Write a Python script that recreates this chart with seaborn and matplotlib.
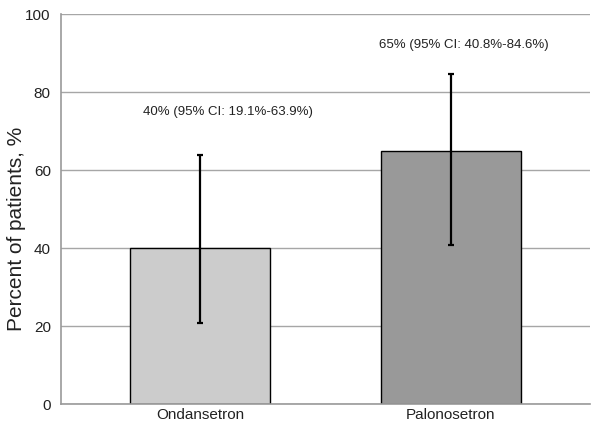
import seaborn as sns
import matplotlib.pyplot as plt
import pandas as pd

# Data
drugs = ["Ondansetron", "Palonosetron"]
percent = [40, 65]
ci_low = [20.9, 40.8]
ci_high = [63.9, 84.6]
labels = ["40% (95% CI: 19.1%-63.9%)", "65% (95% CI: 40.8%-84.6%)"]
label_x = [0.11, 1.05]
label_y = [75, 92]
colors = ["#cccccc", "#999999"]

df = pd.DataFrame({"drug": drugs, "percent": percent})

sns.set_style("white")
plt.rcParams["font.family"] = ["Liberation Sans", "DejaVu Sans"]

fig = plt.figure(figsize=(6, 4.29), dpi=100)
ax = fig.add_axes([0.102, 0.058, 0.881, 0.909])

sns.barplot(data=df, x="drug", y="percent", hue="drug", palette=colors,
            width=0.56, edgecolor="black", linewidth=1, legend=False,
            ax=ax, zorder=2)

# 95% CI error bars
lo = [p - l for p, l in zip(percent, ci_low)]
hi = [h - p for p, h in zip(percent, ci_high)]
ax.errorbar(range(len(drugs)), percent, yerr=[lo, hi], fmt="none",
            ecolor="black", elinewidth=1.6, capsize=2, capthick=1.6, zorder=3)

for x, y, t in zip(label_x, label_y, labels):
    ax.text(x, y, t, ha="center", va="center", fontsize=9.5, color="#222222")

ax.set_ylim(0, 100)
ax.set_yticks(range(0, 101, 20))
ax.set_xlim(-0.554, 1.554)
ax.yaxis.grid(True, color="#a6a6a6", linewidth=1)
ax.set_axisbelow(True)

ax.set_xlabel("")
ax.set_ylabel("Percent of patients, %", fontsize=15, color="#222222", va="center")
ax.yaxis.set_label_coords(-0.085, 0.45)

for side in ["top", "right"]:
    ax.spines[side].set_visible(False)
for side in ["left", "bottom"]:
    ax.spines[side].set_color("#999999")
    ax.spines[side].set_linewidth(1.2)

ax.tick_params(axis="y", length=4, color="#999999", labelsize=11, labelcolor="#222222")
ax.tick_params(axis="x", length=0, labelsize=11, labelcolor="#222222", pad=3)
ax.set_xticks([-0.554, 1.554], minor=True)
ax.tick_params(axis="x", which="minor", length=4, color="#999999")

fig.savefig("out.png", dpi=100)
